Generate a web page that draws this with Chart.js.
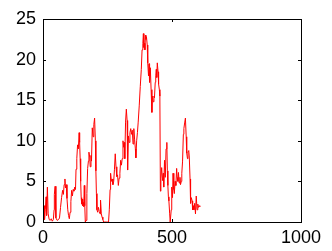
<!DOCTYPE html>
<html>
<head>
<meta charset="utf-8">
<script src="https://cdn.jsdelivr.net/npm/chart.js@4/dist/chart.umd.min.js"></script>
<style>
  html, body { margin: 0; padding: 0; background: #fff; }
  #wrap { width: 332px; height: 251px; }
</style>
</head>
<body>
<div id="wrap"><canvas id="grafico" width="332" height="251"></canvas></div>
<script>
// values
const xs = [1,4,6,9,12,14,17,20,24,28,32,36,40,43,44,47,50,55,60,64,68,72,76,79,82,85,87,90,93,96,99,102,105,108,111,114,117,120,123,126,128,131,134,137,140,142,144,146,148,150,152,154,156,158,160,162,164,167,170,173,176,178,181,183,186,188,191,194,197,200,203,205,207,209,212,215,218,221,223,226,229,232,235,240,245,250,254,257,260,262,265,268,271,274,277,280,283,286,289,292,295,298,301,304,307,310,313,315,317,320,323,326,328,331,334,337,340,343,346,349,352,355,358,360,363,366,369,373,377,381,384,387,389,391,393,395,397,399,401,404,406,409,411,413,416,419,422,424,427,430,432,435,437,439,441,443,446,448,451,453,455,457,460,463,466,468,471,474,477,480,482,484,486,488,491,493,495,497,499,502,504,507,509,512,515,518,520,523,525,528,531,533,536,538,541,544,546,549,552,555,557,560,562,565,567,570,572,575,578,580,583,585,588,591,594,597,600,603,606,608];
const ys = [0.5,2.0,0.3,1.5,3.1,0.8,4.3,1.0,0.3,0.2,0.4,0.1,0.3,1.5,3.4,4.4,0.5,0.2,0.3,0.5,1.8,3.0,3.9,3.4,4.6,5.3,4.2,4.6,2.9,1.5,0.8,0.4,1.2,2.5,3.9,3.2,4.0,3.8,4.3,4.0,6.5,7.8,9.5,9.0,11.0,9.8,7.8,5.0,3.0,2.2,2.8,2.0,2.4,1.9,4.5,2.0,0.0,0.2,3.5,6.6,7.5,8.6,8.0,6.8,8.2,7.5,11.6,10.5,12.0,12.8,10.0,6.3,3.5,1.5,1.2,1.8,1.3,1.0,2.7,1.0,0.6,0.3,0.0,0.0,0.0,0.0,0.0,1.5,4.0,6.0,5.0,5.3,4.6,5.0,6.5,8.4,6.8,5.6,5.8,4.5,5.4,6.0,7.6,7.0,7.8,10.0,9.2,9.8,7.8,12.3,13.9,12.5,6.4,10.6,9.8,11.0,11.5,10.8,11.3,9.6,11.5,10.2,9.0,7.9,10.0,11.0,12.3,14.3,16.7,18.8,21.2,22.0,23.2,21.5,22.0,21.2,23.0,22.5,22.8,21.8,19.6,18.0,19.5,17.2,19.0,16.3,13.5,15.5,14.8,15.5,15.3,17.2,18.0,18.8,17.8,19.6,18.5,17.0,16.3,15.5,3.8,5.4,6.7,5.1,6.0,4.3,7.6,5.5,9.0,9.8,6.3,4.5,3.1,2.6,1.0,0.0,0.0,1.5,4.3,3.0,6.0,4.0,3.5,5.0,4.5,6.6,5.5,5.0,6.1,4.8,5.5,4.6,5.0,6.0,7.5,10.8,11.5,12.2,12.8,10.5,8.5,7.8,8.6,8.8,8.0,5.3,2.3,3.0,2.6,1.5,2.0,1.5,2.3,1.0,3.2,1.5,2.2,1.8,2.0,1.9];
const xTicks = [0, 500, 1000];
const yTicks = [0, 5, 10, 15, 20, 25];

let puntos = [];
for (i = 0; i < xs.length; i++) {
  puntos.push({x: xs[i], y: ys[i]});
}

// matlab style box with inward ticks
const caja = {
  id: 'caja',
  afterDraw(chart) {
    const ctx = chart.ctx;
    const a = chart.chartArea;
    const sx = chart.scales.x, sy = chart.scales.y;
    ctx.save();
    ctx.strokeStyle = '#000';
    ctx.lineWidth = 1;
    ctx.strokeRect(Math.round(a.left) + 0.5, Math.round(a.top) + 0.5, Math.round(a.right - a.left), Math.round(a.bottom - a.top));
    ctx.beginPath();
    xTicks.forEach(v => {
      const px = Math.round(sx.getPixelForValue(v)) + 0.5;
      ctx.moveTo(px, a.bottom); ctx.lineTo(px, a.bottom - 3);
      ctx.moveTo(px, a.top); ctx.lineTo(px, a.top + 3);
    });
    yTicks.forEach(v => {
      const py = Math.round(sy.getPixelForValue(v)) + 0.5;
      ctx.moveTo(a.left, py); ctx.lineTo(a.left + 3, py);
      ctx.moveTo(a.right, py); ctx.lineTo(a.right - 3, py);
    });
    ctx.stroke();
    ctx.restore();
  }
};

const fuente = { family: '"Liberation Sans", Arial, sans-serif', size: 18 };

new Chart(document.getElementById('grafico'), {
  type: 'line',
  data: {
    datasets: [{
      data: puntos,
      borderColor: '#ff0000',
      borderWidth: 1,
      pointRadius: 0,
      tension: 0,
      fill: false
    }]
  },
  options: {
    responsive: false,
    animation: false,
    events: [],
    layout: { padding: { top: 19, right: 31, left: 0, bottom: 0 } },
    plugins: { legend: { display: false }, tooltip: { enabled: false } },
    scales: {
      x: {
        type: 'linear',
        min: 0, max: 1000,
        grid: { display: false, drawTicks: false },
        border: { display: false },
        afterBuildTicks: s => { s.ticks = xTicks.map(v => ({value: v})); },
        afterFit: s => { s.height = 29; },
        ticks: { color: '#000', font: fuente, padding: 5, maxRotation: 0, callback: v => String(v) }
      },
      y: {
        min: 0, max: 25,
        grid: { display: false, drawTicks: false },
        border: { display: false },
        afterBuildTicks: s => { s.ticks = yTicks.map(v => ({value: v})); },
        afterFit: s => { s.width = 43; },
        ticks: { color: '#000', font: fuente, padding: 7, callback: v => String(v) }
      }
    }
  },
  plugins: [caja]
});
</script>
</body>
</html>
